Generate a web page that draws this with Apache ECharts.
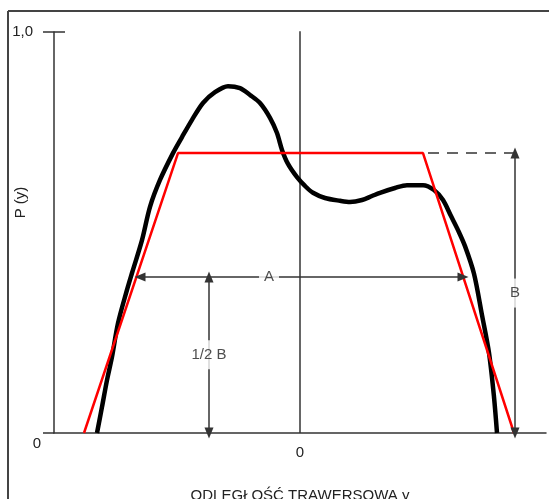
<!DOCTYPE html>
<html>
<head>
<meta charset="utf-8">
<script src="https://cdn.jsdelivr.net/npm/echarts@6/dist/echarts.min.js"></script>
<style>html,body{margin:0;padding:0;background:#fff}#c{width:549px;height:499px}</style>
</head>
<body>
<div id="c"></div>
<script>
// measured curve P(y) (x = transverse offset from centre, P = probability)
const curveX = [-203,-198,-193,-188,-182,-173,-168,-158,-150,-140,-127,-118,-108,-97,-85,-72,-60,-50,-40,-30,-23,-18,-12,-3,5,13,25,40,50,62,72,80,95,107,123,134,143,151,158,165,174,182,189,194,197];
const curveP = [0,0.065,0.132,0.190,0.274,0.357,0.399,0.481,0.564,0.631,0.698,0.738,0.781,0.823,0.850,0.865,0.860,0.843,0.823,0.786,0.748,0.706,0.671,0.638,0.616,0.599,0.586,0.579,0.576,0.581,0.591,0.599,0.611,0.618,0.618,0.606,0.581,0.541,0.506,0.466,0.397,0.294,0.200,0.090,0];
// trapezoid approximation
const trapX = [-216,-122,123,214];
const trapP = [0,0.698,0.698,0];
// dashed extension of the top
const dashX = [128,220];
const dashP = [0.698,0.698];
// dimension arrows
const arrowAX = [-160,163];   const arrowAP = 0.389;
const arrowBX = 215;          const arrowBP = [0,0.698];
const arrowHX = -91;          const arrowHP = [0,0.389];
// arrow labels
const labelText = ['A','B','1/2 B'];
const labelX = [-31,215,-91];
const labelP = [0.389,0.349,0.195];
// tick labels
const yTickLabels = {0:'0',1:'1,0'};
const xTickLabels = {0:'0'};
const xTitle = 'ODLEGŁOŚĆ TRAWERSOWA y';
const yTitle = 'P (y)';

const FONT = 'Liberation Sans';
const AX = '#333';
const TXT = '#222';
const chart = echarts.init(document.getElementById('c'));
const arrowLine = {color:AX,width:1.5,type:'solid'};
chart.setOption({
  animation:false,
  backgroundColor:'#fff',
  textStyle:{fontFamily:FONT},
  graphic:[
    {type:'line',shape:{x1:8,y1:11,x2:549,y2:11},style:{stroke:'#444',lineWidth:2}},
    {type:'line',shape:{x1:8,y1:11,x2:8,y2:499},style:{stroke:'#444',lineWidth:2}}
  ],
  grid:{left:54,right:3,top:32,bottom:66,outerBoundsMode:'none',containLabel:false},
  xAxis:{type:'value',min:-246,max:246,interval:246,
    axisLine:{show:true,onZero:false,lineStyle:{color:AX,width:1.5}},
    axisTick:{show:false},splitLine:{show:false},
    axisLabel:{margin:12,color:TXT,fontSize:15,fontFamily:FONT,formatter:v=>xTickLabels[v]||''},
    name:xTitle,nameLocation:'middle',nameGap:55,nameMoveOverlap:false,
    nameTextStyle:{color:TXT,fontSize:15,fontFamily:FONT}
  },
  yAxis:[{type:'value',min:0,max:1,interval:1,
    axisLine:{show:true,onZero:false,lineStyle:{color:AX,width:1.5}},
    axisTick:{show:true,length:11,lineStyle:{color:AX,width:1.5}},
    splitLine:{show:false},
    axisLabel:{margin:13,color:TXT,fontSize:15,fontFamily:FONT,
      formatter:v=> v===0 ? '{z|'+yTickLabels[0]+'}' : '{o|'+(yTickLabels[v]||'')+'}',
      rich:{z:{fontSize:15,fontFamily:FONT,color:TXT,padding:[22,0,0,0]},o:{fontSize:15,fontFamily:FONT,color:TXT,padding:[0,8,0,0]}}},
    name:yTitle,nameLocation:'middle',nameGap:26,nameRotate:90,nameMoveOverlap:false,
    nameTextStyle:{color:TXT,fontSize:15,fontFamily:FONT,padding:[0,0,0,60]}
  },{type:'value',min:0,max:1,interval:1,position:'left',
    axisLine:{show:false,onZero:false},
    axisTick:{show:true,inside:true,length:11,lineStyle:{color:AX,width:1.5},customValues:[1]},
    axisLabel:{show:false},splitLine:{show:false}
  }],
  series:[
    {type:'line',data:[[0,0],[0,1.005]],symbol:'none',lineStyle:{color:AX,width:1.5},z:1},
    {type:'line',data:curveX.map((x,i)=>[x,curveP[i]]),smooth:0.3,symbol:'none',
      lineStyle:{color:'#000',width:4.5},z:2},
    {type:'line',data:trapX.map((x,i)=>[x,trapP[i]]),symbol:'none',
      lineStyle:{color:'#ff0000',width:2.5},z:3},
    {type:'line',data:dashX.map((x,i)=>[x,dashP[i]]),symbol:'none',
      lineStyle:{color:AX,width:1.5,type:[11,8]},z:3},
    {type:'line',data:[],symbol:'none',z:4,
      markLine:{silent:true,symbol:['triangle','triangle'],symbolSize:[9,11],
        label:{show:false},lineStyle:arrowLine,emphasis:{disabled:true},
        data:[
          [{coord:[arrowAX[0],arrowAP]},{coord:[arrowAX[1],arrowAP]}],
          [{coord:[arrowBX,arrowBP[0]]},{coord:[arrowBX,arrowBP[1]]}],
          [{coord:[arrowHX,arrowHP[0]]},{coord:[arrowHX,arrowHP[1]]}]
        ]}},
    {type:'scatter',data:labelX.map((x,i)=>[x,labelP[i],labelText[i]]),symbolSize:0,z:10,
      label:{show:true,position:'inside',formatter:p=>p.data[2],color:TXT,fontSize:15,fontFamily:FONT,
        backgroundColor:'#fff',padding:[7,5]}}
  ]
});
</script>
</body>
</html>
